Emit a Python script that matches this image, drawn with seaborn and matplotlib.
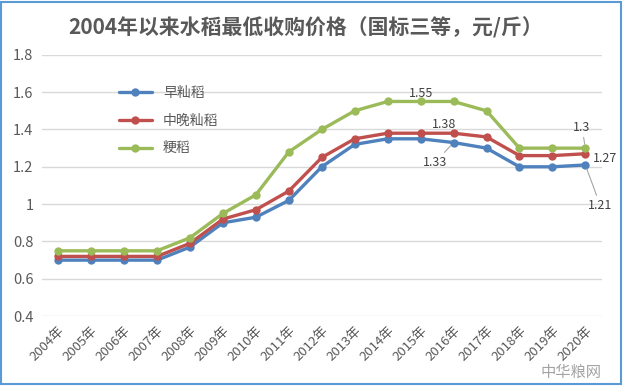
import pandas as pd
import matplotlib
matplotlib.use("Agg")
import matplotlib.pyplot as plt
import seaborn as sns
from matplotlib.patches import Rectangle

# --- data ---
YEARS = [f"{y}年" for y in range(2004, 2021)]
EARLY_INDICA = [0.70, 0.70, 0.70, 0.70, 0.77, 0.90, 0.93, 1.02, 1.20,
                1.32, 1.35, 1.35, 1.33, 1.30, 1.20, 1.20, 1.21]
MID_LATE_INDICA = [0.72, 0.72, 0.72, 0.72, 0.79, 0.92, 0.97, 1.07, 1.25,
                   1.35, 1.38, 1.38, 1.38, 1.36, 1.26, 1.26, 1.27]
JAPONICA = [0.75, 0.75, 0.75, 0.75, 0.82, 0.95, 1.05, 1.28, 1.40,
            1.50, 1.55, 1.55, 1.55, 1.50, 1.30, 1.30, 1.30]
SERIES_NAMES = ["早籼稻", "中晚籼稻", "粳稻"]
Y_TICKS = [0.4, 0.6, 0.8, 1.0, 1.2, 1.4, 1.6, 1.8]
Y_TICK_LABELS = ["0.4", "0.6", "0.8", "1", "1.2", "1.4", "1.6", "1.8"]

sns.set_theme(style="white")
plt.rcParams["font.family"] = ["Noto Sans CJK SC", "DejaVu Sans"]

df = pd.DataFrame({
    "year": YEARS * 3,
    "idx": list(range(len(YEARS))) * 3,
    "price": EARLY_INDICA + MID_LATE_INDICA + JAPONICA,
    "type": [SERIES_NAMES[0]] * 17 + [SERIES_NAMES[1]] * 17 + [SERIES_NAMES[2]] * 17,
})
palette = {"早籼稻": "#4F81BD", "中晚籼稻": "#C0504D", "粳稻": "#9BBB59"}

fig = plt.figure(figsize=(6.23, 3.86), dpi=100)
ax = fig.add_axes([0.067, 0.181, 0.899, 0.677])

sns.lineplot(data=df, x="idx", y="price", hue="type", hue_order=SERIES_NAMES,
             palette=palette, marker="o", markersize=6, markeredgewidth=0,
             linewidth=2.4, ax=ax, sort=False)

ax.set_xlim(-0.5, len(YEARS) - 0.5)
ax.set_ylim(0.4, 1.8)
ax.set_yticks(Y_TICKS)
ax.set_yticklabels(Y_TICK_LABELS, color="#595959", fontsize=10.5)
ax.set_xticks(range(len(YEARS)))
ax.set_xticklabels(YEARS, rotation=45, ha="right", rotation_mode="anchor",
                   color="#595959", fontsize=9.5)
ax.tick_params(axis="both", length=0, pad=6)
ax.grid(axis="y", color="#D9D9D9", linewidth=1)
ax.set_axisbelow(True)
for s in ax.spines.values():
    s.set_visible(False)
ax.set_xlabel(""); ax.set_ylabel("")

leg = ax.legend(loc="upper left", bbox_to_anchor=(0.115, 0.93), frameon=False,
                fontsize=10, handlelength=2.4, labelspacing=1.0,
                labelcolor="#595959")

# data labels
lab = dict(fontsize=9, color="#404040", ha="center", va="center")
lead = dict(arrowstyle="-", color="#A6A6A6", lw=0.8, shrinkA=0, shrinkB=3)
ax.text(11, 1.595, "1.55", **lab)
ax.text(11.7, 1.425, "1.38", **lab)
ax.annotate("1.33", xy=(12, 1.33), xytext=(11.45, 1.225), arrowprops=lead, **lab)
ax.annotate("1.3", xy=(16, 1.30), xytext=(15.9, 1.41), arrowprops=lead, **lab)
ax.text(16.6, 1.245, "1.27", **lab)
ax.annotate("1.21", xy=(16, 1.21), xytext=(16.45, 0.995), arrowprops=lead, **lab)

fig.text(0.49, 0.928, "2004年以来水稻最低收购价格（国标三等，元/斤）",
         ha="center", va="center", fontsize=15, fontweight="bold",
         color="#595959")
fig.text(0.966, 0.035, "中华粮网", ha="right", va="center", fontsize=11,
         color="#8C8C8C", alpha=0.8)
fig.patches.append(Rectangle((0.002, 0.004), 0.995, 0.992, transform=fig.transFigure,
                             fill=False, edgecolor="#5B9BD5", linewidth=1.5))

plt.savefig("out.png", dpi=100)
plt.close()
